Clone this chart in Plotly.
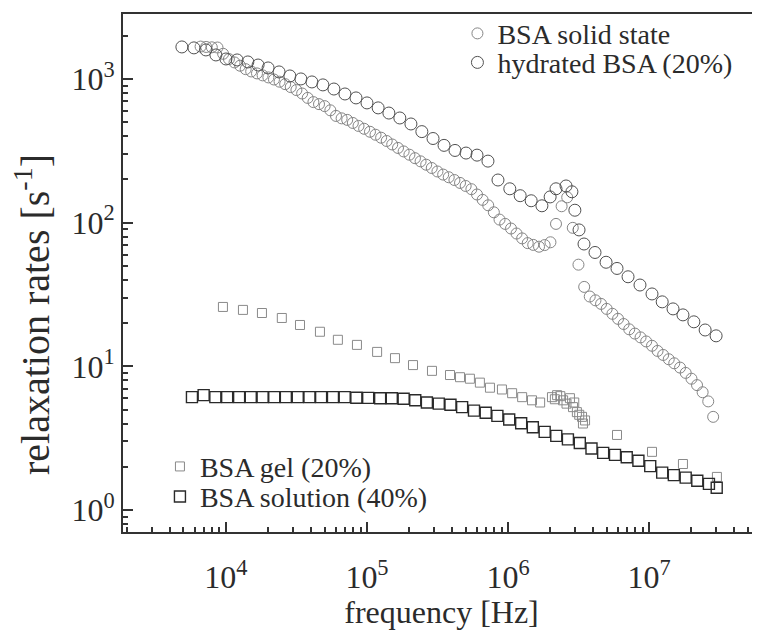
import plotly.graph_objects as go

# ---------------- data ----------------
solid_freq = [6.61e3, 7.24e3, 7.94e3, 8.71e3, 9.55e3,
              1.05e4, 1.15e4, 1.26e4, 1.38e4, 1.51e4, 1.66e4, 1.82e4, 2.00e4, 2.19e4, 2.40e4,
              2.63e4, 2.88e4, 3.16e4, 3.47e4, 3.80e4, 4.17e4, 4.57e4, 5.01e4, 5.50e4, 6.03e4,
              6.61e4, 7.24e4, 7.94e4, 8.71e4, 9.55e4,
              1.05e5, 1.15e5, 1.26e5, 1.38e5, 1.51e5, 1.66e5, 1.82e5, 2.00e5, 2.19e5, 2.40e5,
              2.63e5, 2.88e5, 3.16e5, 3.47e5, 3.80e5, 4.17e5, 4.57e5, 5.01e5, 5.50e5, 6.03e5,
              6.61e5, 7.24e5, 7.94e5, 8.71e5, 9.55e5,
              1.05e6, 1.15e6, 1.26e6, 1.38e6, 1.51e6, 1.66e6, 1.82e6, 2.00e6, 2.19e6, 2.40e6,
              2.63e6, 2.88e6, 3.16e6, 3.47e6, 3.80e6, 4.17e6, 4.57e6, 5.01e6, 5.50e6, 6.03e6,
              6.61e6, 7.24e6, 7.94e6, 8.71e6, 9.55e6,
              1.05e7, 1.15e7, 1.26e7, 1.38e7, 1.51e7, 1.66e7, 1.82e7, 2.00e7, 2.19e7, 2.40e7,
              2.63e7, 2.85e7]
solid_rate = [1680, 1670, 1660, 1655, 1496,
              1375, 1303, 1236, 1170, 1128, 1093, 1059, 1025, 991, 957,
              920, 878, 837, 792, 738, 690, 668, 647, 605, 553,
              532, 519, 494, 471, 450,
              429, 409, 390, 370, 350, 331, 313, 297, 281, 267,
              253, 240, 227, 216, 207, 198, 189, 180, 171, 157,
              144, 132, 118, 105, 98,
              91, 84, 77.7, 72, 70, 68, 69.8, 73, 98, 130,
              150, 92, 51, 35.7, 30.6, 28.8, 27.2, 25.1, 23.2, 21.4,
              19.7, 18.1, 16.9, 15.9, 14.9,
              13.9, 12.8, 12.0, 11.2, 10.5, 9.8, 9.0, 8.2, 7.4, 6.6,
              5.7, 4.45]

hydr_freq = [4.87e3, 5.93e3, 7.21e3, 8.49e3, 1.0e4, 1.2e4, 1.43e4, 1.69e4, 1.99e4, 2.38e4,
             2.84e4, 3.4e4, 4.07e4, 4.87e4, 5.83e4, 6.98e4, 8.36e4, 1.0e5, 1.2e5, 1.43e5,
             1.71e5, 2.05e5, 2.45e5, 2.94e5, 3.52e5, 4.21e5, 5.04e5, 6.03e5, 7.21e5, 8.49e5,
             1.03e6, 1.22e6, 1.46e6, 1.74e6, 1.99e6, 2.19e6, 2.58e6, 2.84e6, 2.98e6, 3.19e6,
             3.46e6, 4.14e6, 4.96e6, 5.93e6, 7.1e6, 8.63e6, 1.05e7, 1.24e7, 1.48e7, 1.74e7,
             2.08e7, 2.5e7, 2.99e7]
hydr_rate = [1670, 1645, 1592, 1469, 1377, 1356, 1313, 1250, 1193, 1119,
             1049, 1000, 953, 909, 851, 786, 738, 681, 629, 579,
             535, 486, 430, 385, 345, 318, 305, 295, 268, 198,
             172, 154, 142, 131, 151, 172, 180, 164, 122, 89,
             71, 62, 53, 48, 42, 36.8, 31.9, 28.1, 25.1, 22.8,
             20.4, 17.9, 16.3]

gel_freq = [9.52e3, 1.32e4, 1.80e4, 2.49e4, 3.35e4, 4.64e4, 6.22e4, 8.49e4, 1.18e5, 1.58e5,
            2.12e5, 2.89e5, 3.88e5, 4.57e5, 5.37e5, 6.32e5, 7.45e5, 9.06e5, 1.07e6, 1.26e6,
            1.48e6, 1.69e6, 2.05e6, 2.15e6, 2.23e6, 2.35e6, 2.46e6, 2.6e6, 2.75e6, 2.89e6,
            2.95e6, 3.08e6, 3.2e6, 3.35e6, 3.4e6, 3.52e6, 5.93e6, 1.05e7, 1.74e7, 3.03e7]
gel_rate = [25.9, 24.7, 23.5, 21.7, 19.4, 17.4, 15.3, 14.1, 12.6, 11.4,
            10.2, 9.3, 8.7, 8.4, 8.2, 7.7, 7.1, 6.9, 6.5, 6.1,
            5.8, 5.6, 6.1, 5.9, 6.3, 6.2, 5.8, 5.5, 6.0, 5.2,
            5.6, 4.8, 4.6, 4.45, 4.0, 4.2, 3.33, 2.54, 2.09, 1.70]

sol_freq = [5.74e3, 6.95e3, 8.41e3, 1.02e4, 1.24e4, 1.5e4, 1.82e4, 2.2e4, 2.66e4, 3.23e4,
            3.91e4, 4.73e4, 5.74e4, 6.95e4, 8.41e4, 1.02e5, 1.24e5, 1.5e5, 1.82e5, 2.2e5,
            2.66e5, 3.23e5, 3.91e5, 4.73e5, 5.74e5, 6.95e5, 8.41e5, 1.02e6, 1.24e6, 1.5e6,
            1.82e6, 2.2e6, 2.66e6, 3.23e6, 3.91e6, 4.73e6, 5.74e6, 6.95e6, 8.41e6, 1.02e7,
            1.24e7, 1.5e7, 1.82e7, 2.2e7, 2.66e7, 3.02e7]
sol_rate = [6.1, 6.3, 6.1, 6.1, 6.1, 6.1, 6.1, 6.1, 6.1, 6.1,
            6.1, 6.1, 6.1, 6.1, 6.05, 6.03, 6.0, 6.0, 5.95, 5.8,
            5.6, 5.5, 5.4, 5.2, 4.92, 4.75, 4.52, 4.27, 4.02, 3.77,
            3.5, 3.28, 3.1, 2.93, 2.68, 2.5, 2.42, 2.33, 2.2, 2.02,
            1.82, 1.75, 1.68, 1.6, 1.52, 1.43]

x_tick_vals = [1e4, 1e5, 1e6, 1e7]
x_tick_text = ["10<sup>4</sup>", "10<sup>5</sup>", "10<sup>6</sup>", "10<sup>7</sup>"]
y_tick_vals = [1, 10, 100, 1000]
y_tick_text = ["10<sup>0</sup>", "10<sup>1</sup>", "10<sup>2</sup>", "10<sup>3</sup>"]

FONT = "Liberation Serif"
INK = "#2b2b2b"

fig = go.Figure()
fig.add_trace(go.Scatter(x=solid_freq, y=solid_rate, mode="markers", name="BSA solid state",
                         legend="legend",
                         marker=dict(symbol="circle-open", size=11, color="#858585",
                                     line=dict(width=1))))
fig.add_trace(go.Scatter(x=hydr_freq, y=hydr_rate, mode="markers", name="hydrated BSA (20%)",
                         legend="legend2",
                         marker=dict(symbol="circle-open", size=12, color="#505050",
                                     line=dict(width=1))))
fig.add_trace(go.Scatter(x=gel_freq, y=gel_rate, mode="markers", name="BSA gel (20%)",
                         legend="legend3",
                         marker=dict(symbol="square-open", size=9, color="#8a8a8a",
                                     line=dict(width=1))))
fig.add_trace(go.Scatter(x=sol_freq, y=sol_rate, mode="markers", name="BSA solution (40%)",
                         legend="legend4",
                         marker=dict(symbol="square-open", size=11, color="#2a2a2a",
                                     line=dict(width=1.4))))

LEG_FONT = dict(size=28, family=FONT, color=INK)


def leg(x, y):
    return dict(x=x, y=y, xanchor="left", yanchor="middle", bgcolor="rgba(0,0,0,0)",
                font=LEG_FONT, itemclick=False, itemdoubleclick=False)


# the page body adds an 8 px offset, so the figure is 752x622
fig.update_layout(
    width=752, height=622,
    margin=dict(l=115, r=0, t=6, b=98, autoexpand=False),
    paper_bgcolor="white", plot_bgcolor="white",
    font=dict(family=FONT, color=INK, size=30),
    showlegend=True,
    legend=leg(0.525, 0.962),
    legend2=leg(0.525, 0.906),
    legend3=leg(0.058, 0.126),
    legend4=leg(0.058, 0.068),
    xaxis=dict(type="log", range=[3.27, 7.787], showgrid=False, zeroline=False,
               showline=True, linecolor="#333", linewidth=2, mirror=True,
               ticks="inside", ticklen=10, tickwidth=1.5, tickcolor="#333",
               tickvals=x_tick_vals, ticktext=x_tick_text,
               tickfont=dict(size=32, family=FONT, color=INK), ticklabelstandoff=16,
               minor=dict(ticks="inside", ticklen=5, tickcolor="#333", dtick="D1", showgrid=False),
               title=dict(text="frequency [Hz]", font=dict(size=32, family=FONT, color=INK),
                          standoff=8)),
    yaxis=dict(type="log", range=[-0.153, 3.452], showgrid=False, zeroline=False,
               showline=True, linecolor="#333", linewidth=2,
               ticks="inside", ticklen=10, tickwidth=1.5, tickcolor="#333",
               tickvals=y_tick_vals, ticktext=y_tick_text,
               tickfont=dict(size=32, family=FONT, color=INK),
               minor=dict(ticks="inside", ticklen=5, tickcolor="#333", dtick="D1", showgrid=False)),
    annotations=[dict(text="relaxation rates [s<sup>-1</sup>]", textangle=-90,
                      xref="paper", yref="paper", x=-0.142, y=0.42,
                      xanchor="center", yanchor="middle", showarrow=False,
                      font=dict(size=40, family=FONT, color=INK))],
)

fig.write_html("out.html")
